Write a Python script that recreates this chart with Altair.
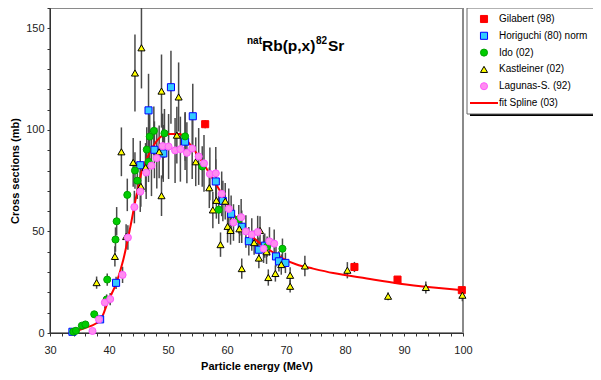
import altair as alt
import pandas as pd

# ---------------- data ----------------
series_names = ["Gilabert (98)", "Horiguchi (80) norm", "Ido (02)",
                "Kastleiner (02)", "Lagunas-S. (92)", "fit Spline (03)"]

gil_e = [56.3, 81.6, 88.9, 99.8]
gil_s = [102.8, 32.5, 26.3, 21.1]
gil_err = [2.0, 2.5, 1.5, 1.2]

hor_e = [33.8, 38.5, 41.2, 45.3, 46.7, 47.7, 49.2, 50.5, 52.9, 54.2, 58.1, 59.3,
         60.7, 62.5, 63.7, 65.4, 66.4, 68.3, 68.8, 69.9]
hor_s = [0.6, 6.7, 24.7, 82.6, 109.6, 90.2, 88.4, 121.0, 94.2, 106.7, 74.6, 65.0,
         58.7, 52.3, 45.2, 41.0, 43.0, 37.7, 35.3, 34.5]
hor_err = [0.2, 1.0, 3.0, 12.0, 18.0, 14.0, 14.0, 18.0, 14.0, 16.0, 11.0, 10.0,
           9.0, 8.0, 7.0, 6.0, 6.0, 5.0, 5.0, 5.0]

kas_e = [37.9, 41.0, 42.1, 42.9, 44.1, 44.4, 45.5, 45.4, 46.2, 48.5, 48.9, 48.9,
         51.5, 51.8, 54.7, 57.0, 58.2, 59.7, 57.6, 60.1, 60.6, 62.1, 58.9, 62.5,
         64.6, 65.4, 65.6, 66.7, 67.0, 68.2, 69.2, 70.7, 70.7, 73.2, 80.4, 87.3,
         93.7, 99.9]
kas_s = [24.8, 37.7, 89.2, 47.5, 84.0, 128.0, 140.4, 72.2, 81.5, 89.2, 119.1, 67.6,
         97.4, 116.2, 84.3, 71.5, 65.3, 64.9, 60.6, 52.5, 50.5, 51.3, 43.5, 31.7,
         44.5, 36.9, 50.5, 40.0, 27.3, 29.3, 33.7, 28.4, 23.0, 33.0, 30.9, 18.1,
         22.4, 18.6]
kas_err = [3.0, 5.0, 12.0, 6.0, 12.0, 19.0, 20.0, 10.0, 12.0, 13.0, 18.0, 10.0,
           14.0, 17.0, 12.0, 10.0, 9.0, 9.0, 9.0, 8.0, 7.0, 7.0, 6.0, 5.0,
           6.0, 5.0, 7.0, 6.0, 4.0, 4.0, 5.0, 4.0, 3.0, 5.0, 4.0, 2.0,
           3.0, 3.0]

ido_e = [33.95, 34.4, 35.4, 36.0, 37.5, 39.6, 39.7, 41.1, 41.3, 43.1, 44.4, 44.8,
         46.4, 46.7, 46.9, 47.6, 49.4, 52.9, 55.8, 58.6, 62.0, 66.8, 69.4]
ido_s = [0.6, 1.1, 3.6, 4.2, 9.2, 16.5, 26.3, 46.0, 55.0, 68.0, 80.0, 75.0,
         90.3, 84.3, 96.7, 99.5, 98.3, 96.8, 82.0, 60.7, 56.0, 42.5, 41.5]
ido_err = [0.3, 0.3, 0.6, 0.7, 1.5, 2.5, 3.0, 6.0, 7.0, 8.0, 9.0, 9.0,
           11.0, 10.0, 11.0, 12.0, 12.0, 12.0, 10.0, 7.0, 7.0, 5.0, 5.0]

lag_e = [37.2, 38.3, 39.3, 40.2, 42.3, 43.2, 44.3, 45.3, 46.3, 47.2, 48.1, 49.1,
         50.1, 51.2, 52.1, 53.2, 54.1, 55.2, 56.1, 57.1, 58.1, 59.1, 60.3, 61.1,
         62.4, 63.2, 64.2, 65.2, 66.2, 67.2, 68.0]
lag_s = [1.0, 6.7, 15.0, 16.7, 28.6, 47.0, 62.0, 69.6, 79.0, 82.4, 86.1, 92.0,
         91.8, 89.9, 90.5, 88.7, 90.8, 86.9, 83.5, 78.3, 78.6, 68.5, 61.1, 54.4,
         57.0, 50.0, 48.5, 49.7, 41.5, 45.1, 44.0]
lag_err = [1.0, 1.5, 3.0, 3.0, 4.0, 6.0, 8.0, 10.0, 13.0, 15.0, 15.0, 16.0,
           16.0, 16.0, 16.0, 15.0, 15.0, 14.0, 14.0, 13.0, 13.0, 11.0, 10.0, 9.0,
           9.0, 8.0, 8.0, 8.0, 7.0, 7.0, 7.0]

fit_e = [33.7, 36.0, 38.5, 39.9, 41.3, 42.4, 43.6, 44.7, 45.5, 46.6, 48.1, 49.8,
         52.0, 53.7, 55.4, 57.1, 58.8, 60.5, 62.8, 65.0, 67.3, 69.5, 71.8, 74.6,
         78.0, 83.7, 89.3, 95.0, 100.0]
fit_s = [0.5, 2.5, 6.2, 16.0, 25.0, 35.8, 52.0, 68.5, 79.0, 87.0, 94.6, 98.0,
         98.0, 93.0, 86.0, 78.3, 70.0, 61.0, 52.0, 45.6, 40.7, 36.6, 33.7, 31.7,
         29.5, 26.8, 24.3, 22.4, 21.0]

x_ticks = list(range(30, 101, 2))
y_ticks = list(range(0, 161, 10))

# ---------------- build tables ----------------
def block(name, e, s, err):
    return pd.DataFrame({"series": name, "E": e, "sigma": s,
                         "lo": [a - b for a, b in zip(s, err)],
                         "hi": [a + b for a, b in zip(s, err)]})

pts = pd.concat([
    block(series_names[0], gil_e, gil_s, gil_err),
    block(series_names[1], hor_e, hor_s, hor_err),
    block(series_names[3], kas_e, kas_s, kas_err),
    block(series_names[2], ido_e, ido_s, ido_err),
    block(series_names[4], lag_e, lag_s, lag_err),
], ignore_index=True)
pts["order"] = range(len(pts))

fit = pd.DataFrame({"series": series_names[5], "E": fit_e, "sigma": fit_s})
legend_rows = pd.DataFrame({"series": series_names})

# ---------------- scales ----------------
fill_scale = alt.Scale(domain=series_names,
                       range=["#ff0000", "#33ccff", "#00cc00", "#ffff00", "#ff8cf0", "transparent"])
stroke_scale = alt.Scale(domain=series_names,
                         range=["#ff0000", "#0000ff", "#00a000", "#000000", "#ff55ff", "#ff0000"])
shape_scale = alt.Scale(domain=series_names,
                        range=["square", "square", "circle", "triangle-up", "circle", "stroke"])
row_scale = alt.Scale(type="point", domain=series_names, range=[11, 95], padding=0)

x_enc = alt.X("E:Q", scale=alt.Scale(domain=[30, 100], nice=False, zero=False),
              axis=alt.Axis(values=x_ticks, tickCount=200, labelOverlap=False,
                            labelFlush=False, format="d",
                            labelExpr="datum.value % 10 === 0 ? datum.label : ''",
                            title="Particle energy (MeV)", tickSize=3,
                            labelPadding=8, titlePadding=5))
y_scale = alt.Scale(domain=[0, 160], nice=False)
y_axis = alt.Axis(values=y_ticks, tickCount=200, labelOverlap=False,
                  labelFlush=False, format="d",
                  labelExpr="datum.value % 50 === 0 ? datum.label : ''",
                  title="Cross sections (mb)", tickSize=3, labelPadding=3,
                  titlePadding=5)

errbars = alt.Chart(pts).mark_rule(color="#4a4a4a", strokeWidth=1.5, clip=True).encode(
    x=x_enc,
    y=alt.Y("lo:Q", scale=y_scale, axis=y_axis),
    y2="hi:Q",
)

fit_line = alt.Chart(fit).mark_line(strokeWidth=2, interpolate="monotone").encode(
    x=alt.X("E:Q"),
    y=alt.Y("sigma:Q"),
    stroke=alt.Stroke("series:N", scale=stroke_scale, legend=None),
)

points = alt.Chart(pts).mark_point(filled=True, size=50, opacity=1, strokeWidth=1).encode(
    x=alt.X("E:Q"),
    y=alt.Y("sigma:Q"),
    fill=alt.Fill("series:N", scale=fill_scale, legend=None),
    stroke=alt.Stroke("series:N", scale=stroke_scale, legend=None),
    shape=alt.Shape("series:N", scale=shape_scale, legend=None),
    order=alt.Order("order:Q"),
)

main = alt.layer(errbars, fit_line, points)

# ---------------- title with superscripts ----------------
def piece(txt, px, py, size):
    return alt.Chart(pd.DataFrame({"t": [txt]})).mark_text(
        align="left", baseline="alphabetic", font="Liberation Sans",
        fontWeight="bold", fontSize=size, color="black").encode(
        text="t:N", x=alt.value(px), y=alt.value(py))

title = (piece("nat", 197, 36, 10) + piece("Rb(p,x)", 212, 43, 15.5)
         + piece("82", 266, 36, 10) + piece("Sr", 278, 43, 15.5))

# ---------------- legend box (drawn with the same scales) ----------------
one = pd.DataFrame({"k": [0]})
shadow = alt.Chart(one).mark_rect(fill="black").encode(
    x=alt.value(420), x2=alt.value(600), y=alt.value(3), y2=alt.value(108))
box = alt.Chart(one).mark_rect(fill="white", stroke="#666666", strokeWidth=1).encode(
    x=alt.value(417), x2=alt.value(598), y=alt.value(0), y2=alt.value(106))

leg_pts = alt.Chart(legend_rows).transform_filter(
    alt.datum.series != series_names[5]
).mark_point(filled=True, size=50, opacity=1, strokeWidth=1).encode(
    x=alt.value(434),
    y=alt.Y("series:N", scale=row_scale, axis=None),
    fill=alt.Fill("series:N", scale=fill_scale, legend=None),
    stroke=alt.Stroke("series:N", scale=stroke_scale, legend=None),
    shape=alt.Shape("series:N", scale=shape_scale, legend=None),
)
leg_line = alt.Chart(legend_rows).transform_filter(
    alt.datum.series == series_names[5]
).mark_rule(strokeWidth=2).encode(
    x=alt.value(420), x2=alt.value(448),
    y=alt.Y("series:N", scale=row_scale, axis=None),
    stroke=alt.Stroke("series:N", scale=stroke_scale, legend=None),
)
leg_txt = alt.Chart(legend_rows).mark_text(
    align="left", baseline="middle", font="Liberation Sans", fontSize=10,
    color="black").encode(
    x=alt.value(449),
    y=alt.Y("series:N", scale=row_scale, axis=None),
    text="series:N",
)
legend_layer = alt.layer(shadow, box, leg_pts, leg_line, leg_txt)

chart = alt.layer(main, title, legend_layer).resolve_scale(
    y="independent"
).properties(
    width=413, height=325,
    autosize=alt.AutoSizeParams(type="none"),
    padding={"left": 42, "top": 0, "right": 130, "bottom": 44},
).configure_view(
    stroke="#8a8a8a", strokeWidth=2
).configure_axis(
    grid=False, domainColor="#333333", tickColor="#333333",
    labelFont="Liberation Sans", labelFontSize=11, labelColor="#222222",
    titleFont="Liberation Sans", titleFontSize=11, titleFontWeight="bold",
    titleColor="black",
)

chart.save("out.html", embed_options={"renderer": "svg", "actions": False})
